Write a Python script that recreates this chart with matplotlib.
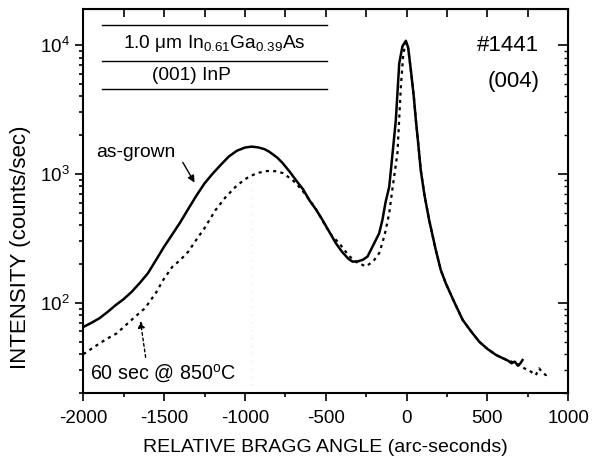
import matplotlib.pyplot as plt
from matplotlib.ticker import MultipleLocator, LogLocator, NullFormatter

plt.rcParams['font.family'] = ['Liberation Sans', 'DejaVu Sans']
plt.rcParams['mathtext.fontset'] = 'custom'
plt.rcParams['mathtext.rm'] = 'Liberation Sans'
plt.rcParams['mathtext.it'] = 'Liberation Sans:italic'
plt.rcParams['axes.unicode_minus'] = False

# as-grown scan (solid)
grown_x = [-2000, -1950, -1900, -1850, -1800, -1750, -1700, -1650, -1600, -1550,
           -1500, -1450, -1400, -1350, -1300, -1250, -1200, -1150, -1100, -1050,
           -1000, -960, -920, -880, -850, -800, -767, -720, -685, -640,
           -602, -560, -520, -480, -437, -400, -360, -334, -300, -270,
           -241, -200, -169, -149, -130, -107, -85, -66, -45, -25,
           -4, 10, 27, 45, 58, 75, 88, 110, 140, 181,
           212, 243, 290, 347, 400, 450, 500, 553, 600, 630,
           650, 670, 690, 705, 718]
grown_y = [65, 70, 76, 85, 96, 107, 122, 143, 170, 215,
           273, 339, 422, 537, 680, 845, 1005, 1175, 1365, 1514,
           1603, 1630, 1610, 1560, 1490, 1340, 1217, 1030, 898, 760,
           628, 530, 440, 360, 290, 250, 220, 209, 210, 216,
           229, 290, 347, 440, 600, 795, 1500, 2620, 7200, 9800,
           10800, 9600, 6400, 4000, 2620, 1600, 1075, 700, 440, 258,
           180, 142, 105, 74, 60, 50, 44, 39.5, 37, 35.5,
           34, 35, 32.5, 34, 36]

# 60 sec @ 850 C anneal (dashed)
anneal_x = [-2000, -1950, -1897, -1850, -1793, -1750, -1690, -1650, -1618, -1550,
            -1505, -1450, -1400, -1350, -1300, -1250, -1182, -1120, -1057, -1010,
            -973, -920, -860, -810, -767, -705, -650, -600, -550, -499,
            -460, -416, -360, -320, -272, -252, -230, -200, -169, -149,
            -130, -107, -85, -56, -35, -20, -4, 10, 27, 45,
            58, 75, 88, 110, 140, 181, 212, 243, 290, 347,
            400, 450, 500, 553, 600, 650, 697, 730, 759, 790,
            800, 821, 840, 862, 875]
anneal_y = [40, 44, 48.7, 53, 58, 65, 76, 84, 91, 120,
            151, 190, 215, 250, 310, 380, 525, 660, 797, 890,
            955, 1020, 1055, 1050, 1018, 898, 760, 630, 510, 390,
            330, 290, 235, 210, 197, 192, 200, 215, 243, 292,
            360, 496, 800, 1455, 4750, 8500, 10500, 9500, 6400, 4000,
            2620, 1600, 1075, 700, 440, 258, 180, 142, 105, 74,
            60, 50, 44, 39.5, 37, 35, 33, 31, 30, 28,
            27.5, 31, 29, 27.5, 29]

fig = plt.figure(figsize=(5.93, 4.58), dpi=100)
ax = fig.add_axes([0.1405, 0.142, 0.8175, 0.838])

ax.axvline(-960, ymin=0, ymax=0.55, color='#e4e4e4', lw=0.8, ls=(0, (1, 6)))
ax.plot(anneal_x, anneal_y, color='black', lw=1.6, ls=(0, (1.4, 1.9)))
ax.plot(grown_x, grown_y, color='black', lw=1.8)

ax.set_yscale('log')
ax.set_xlim(-2000, 1000)
ax.set_ylim(20, 19000)
ax.xaxis.set_major_locator(MultipleLocator(500))
ax.xaxis.set_minor_locator(MultipleLocator(250))
ax.yaxis.set_major_locator(LogLocator(base=10, numticks=10))
ax.yaxis.set_minor_locator(LogLocator(base=10, subs=range(2, 10), numticks=20))
ax.yaxis.set_minor_formatter(NullFormatter())

ax.tick_params(which='both', direction='out', top=False, right=False, labelsize=13.5, width=1.2)
ax.tick_params(which='major', length=6)
ax.tick_params(which='minor', length=3)
ax.tick_params(axis='x', pad=6)
for sp in ax.spines.values():
    sp.set_linewidth(1.5)

# inward ticks on top and right, no labels
axt = ax.secondary_xaxis('top')
axt.xaxis.set_major_locator(MultipleLocator(250))
axt.tick_params(direction='in', length=6, width=1.2, labeltop=False)
axr = ax.secondary_yaxis('right')
axr.tick_params(which='major', direction='in', length=7, width=1.2, labelright=False)
axr.tick_params(which='minor', direction='in', length=3, width=1.0)

ax.set_xlabel('RELATIVE BRAGG ANGLE (arc-seconds)', fontsize=14, labelpad=9)
ax.set_ylabel('INTENSITY (counts/sec)', fontsize=16)
ax.yaxis.set_label_coords(-0.108, 0.38)

# sample structure sketch
for yf in [0.958, 0.865, 0.791]:
    ax.plot([0.038, 0.502], [yf, yf], transform=ax.transAxes, color='black', lw=1.0)
ax.text(0.27, 0.911, r'1.0 $\mathrm{\mu}$m In$_{0.61}$Ga$_{0.39}$As', transform=ax.transAxes,
        ha='center', va='center', fontsize=13.8)
ax.text(0.223, 0.828, '(001) InP', transform=ax.transAxes, ha='center', va='center', fontsize=13.8)
ax.text(0.941, 0.906, '#1441', transform=ax.transAxes, ha='right', va='center', fontsize=16)
ax.text(0.941, 0.8125, '(004)', transform=ax.transAxes, ha='right', va='center', fontsize=16)

ax.text(-1674, 1455, 'as-grown', ha='center', va='center', fontsize=13.9)
ax.annotate('', xy=(-1303, 822), xytext=(-1393, 1285),
            arrowprops=dict(arrowstyle='-|>', color='black', lw=1.0, mutation_scale=10))
ax.text(-1958, 28.4, r'60 sec @ 850$^\mathrm{o}$C', ha='left', va='center', fontsize=14.2)
ax.annotate('', xy=(-1649, 76), xytext=(-1612, 36),
            arrowprops=dict(arrowstyle='-|>', color='black', lw=1.0, ls=(0, (2, 2)),
                            mutation_scale=10))

fig.savefig('out.png', dpi=100)
